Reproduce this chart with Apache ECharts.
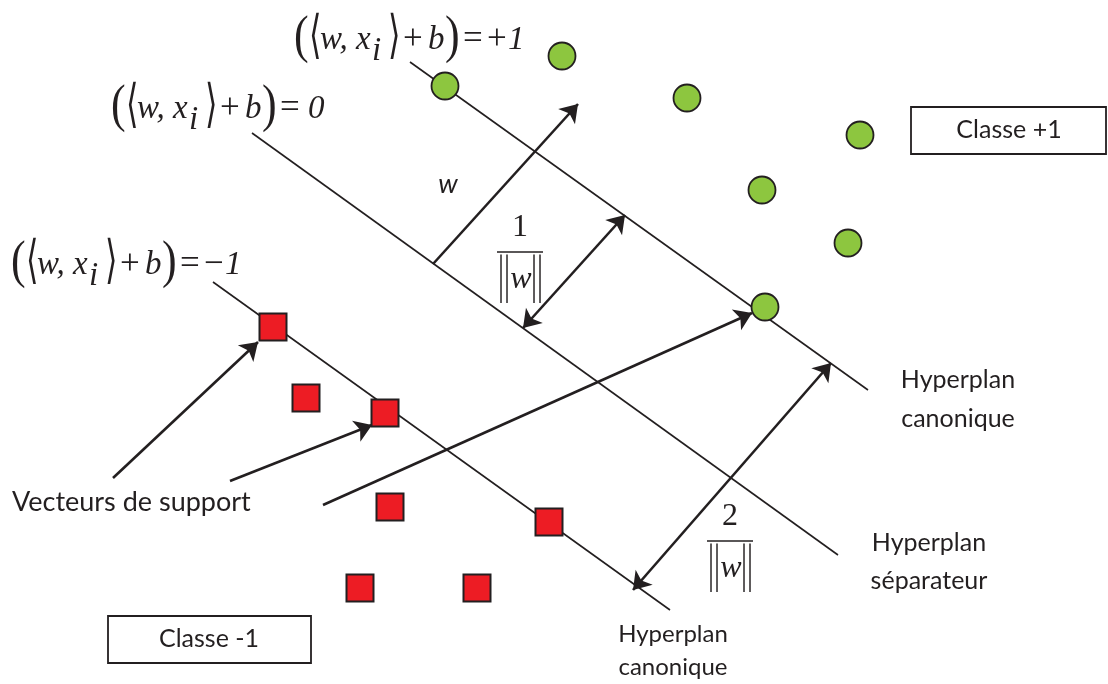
<!DOCTYPE html>
<html><head><meta charset="utf-8">
<script src="https://cdn.jsdelivr.net/npm/echarts@6/dist/echarts.min.js"></script>
<style>html,body{margin:0;padding:0;background:#fff}#c{width:1108px;height:684px}</style>
</head><body><div id="c"></div>
<script>
// ---- data (diagram coordinates, y grows downward) ----
const classPlus = [[445,86],[562,56],[687,98],[860,135],[762,190],[848,243],[765,307]];
const classMinus = [[273,327],[306,398],[385,413],[390,507],[549,522],[360,588],[477,588]];
const hyperplanes = [[[410,62],[868,390]],[[252,133],[838,555]],[[213,282],[670,610]]];
const singleArrows = [[[433,264],[578,104]],[[113,478],[258,342]],[[230,481],[372,425]],[[323,505],[752,313]]];
const doubleArrows = [[[523,328],[625,215]],[[633,590],[831,363]]];
const fractionBars = [[[497,252],[543,252]],[[707,541],[753,541]]];
const boxCorners = [[[911,107],[1106,154]],[[108,616],[311,663]]];
const formulaValues = ['+1','0','\u22121'];
const formulaAnchors = [[295,38],[112,107],[12,263]];
const fractionNumerators = ['1','2'];
const fractionAnchors = [[520,228],[730,517]];
const labelTexts = ['Classe +1','Classe -1','Vecteurs de support','Hyperplan','canonique','Hyperplan','s\u00e9parateur','Hyperplan','canonique'];
const labelAnchors = [[1009,130],[209,639],[12,502],[958,380],[958,419],[929,543],[929,581],[673,634],[673,667]];

const INK = '#231f20';
const SERIF = '"Liberation Serif","DejaVu Serif",serif';
const SANS = 'Lato, "Open Sans", sans-serif';
const BRACKET = '"DejaVu Sans",sans-serif';

function txt(x, y, text, o) {
  return {
    type: 'text', x: x, y: y, scaleX: o.sx || 1, scaleY: o.sy || 1,
    style: {
      text: text, x: 0, y: 0, fill: INK,
      font: (o.italic ? 'italic ' : '') + (o.size || 33) + 'px ' + (o.family || SERIF),
      align: o.align || 'left', textAlign: o.align || 'left',
      verticalAlign: 'middle', textVerticalAlign: 'middle'
    }
  };
}

const chart = echarts.init(document.getElementById('c'));
chart.setOption({
  animation: false,
  backgroundColor: '#ffffff',
  grid: {left: 0, right: 0, top: 0, bottom: 0},
  xAxis: {type: 'value', min: 0, max: 1108, show: false},
  yAxis: {type: 'value', min: 0, max: 684, inverse: true, show: false},
  series: [
    {
      type: 'lines', coordinateSystem: 'cartesian2d', z: 2,
      symbol: ['none','none'],
      lineStyle: {color: INK, width: 1.6, opacity: 1},
      data: hyperplanes.concat(fractionBars).map(c => ({coords: c}))
    },
    {
      type: 'lines', coordinateSystem: 'cartesian2d', z: 3,
      symbol: ['none','arrow'], symbolSize: 17,
      lineStyle: {color: INK, width: 2.6, opacity: 1},
      data: singleArrows.map(c => ({coords: c}))
    },
    {
      type: 'lines', coordinateSystem: 'cartesian2d', z: 3,
      symbol: ['arrow','arrow'], symbolSize: 17,
      lineStyle: {color: INK, width: 2.6, opacity: 1},
      data: doubleArrows.map(c => ({coords: c}))
    },
    {
      type: 'scatter', z: 5, symbol: 'circle', symbolSize: 27,
      itemStyle: {color: '#8dc63f', borderColor: INK, borderWidth: 1.8, opacity: 1},
      data: classPlus
    },
    {
      type: 'scatter', z: 5, symbol: 'rect', symbolSize: 27,
      itemStyle: {color: '#ed1c24', borderColor: INK, borderWidth: 2, opacity: 1},
      data: classMinus
    },
    {
      type: 'custom', z: 6,
      renderItem: function (params, api) {
        const a = api.coord([api.value(0), api.value(1)]);
        const b = api.coord([api.value(2), api.value(3)]);
        return {type: 'rect', shape: {x: a[0], y: a[1], width: b[0]-a[0], height: b[1]-a[1]},
          style: {fill: '#fff', stroke: INK, lineWidth: 1.8}};
      },
      data: boxCorners.map(c => [c[0][0], c[0][1], c[1][0], c[1][1]])
    },
    {
      type: 'custom', z: 7,
      renderItem: function (params, api) {
        const i = params.dataIndex;
        const p = api.coord([api.value(0), api.value(1)]);
        const x = p[0], y = p[1];
        const v = formulaValues[i];
        const sign = v.length > 1 ? v.charAt(0) : '';
        const digit = v.charAt(v.length - 1);
        const kids = [
          txt(x - 1, y, '(', {size: 44, sy: 1.2}),
          txt(x + 14, y, '\u27e8', {size: 40, sy: 1.3, sx: 0.8, family: BRACKET}),
          txt(x + 25, y + 2, 'w, x', {italic: true}),
          txt(x + 77, y + 13, 'i', {italic: true}),
          txt(x + 93, y, '\u27e9', {size: 40, sy: 1.3, sx: 0.8, family: BRACKET}),
          txt(x + 108, y + 2, '+', {size: 35}),
          txt(x + 133, y + 2, 'b', {italic: true}),
          txt(x + 150, y, ')', {size: 44, sy: 1.2}),
          txt(x + 168, y + 2, '=', {size: 35})
        ];
        if (sign) {
          kids.push(txt(x + 192, y + 2, sign, {size: 35}));
          kids.push(txt(x + 213, y + 2, digit, {italic: true}));
        } else {
          kids.push(txt(x + 196, y + 2, digit, {italic: true}));
        }
        return {type: 'group', children: kids};
      },
      data: formulaAnchors.map(a => [a[0], a[1]])
    },
    {
      type: 'custom', z: 7,
      renderItem: function (params, api) {
        const i = params.dataIndex;
        const p = api.coord([api.value(0), api.value(1)]);
        const x = p[0], y = p[1];
        const bar = {size: 30, sy: 1.75, align: 'center'};
        return {type: 'group', children: [
          txt(x, y, fractionNumerators[i], {size: 32, align: 'center'}),
          txt(x - 19, y + 50, '|', bar),
          txt(x - 13, y + 50, '|', bar),
          txt(x + 1, y + 52, 'w', {size: 32, italic: true, align: 'center'}),
          txt(x + 14, y + 50, '|', bar),
          txt(x + 20, y + 50, '|', bar)
        ]};
      },
      data: fractionAnchors.map(a => [a[0], a[1]])
    },
    {
      type: 'custom', z: 7,
      renderItem: function (params, api) {
        const i = params.dataIndex;
        const p = api.coord([api.value(0), api.value(1)]);
        const t = labelTexts[i];
        let size = 25, align = 'center';
        if (i === 2) { size = 27; align = 'left'; }
        if (i >= 7) size = 24;
        return txt(p[0], p[1], t, {size: size, align: align, family: SANS});
      },
      data: labelAnchors.map(a => [a[0], a[1]])
    },
    {
      type: 'custom', z: 7,
      renderItem: function (params, api) {
        const p = api.coord([api.value(0), api.value(1)]);
        return txt(p[0], p[1], 'w', {size: 27, italic: true, align: 'center', family: SANS});
      },
      data: [[448,184]]
    }
  ]
});
</script></body></html>
